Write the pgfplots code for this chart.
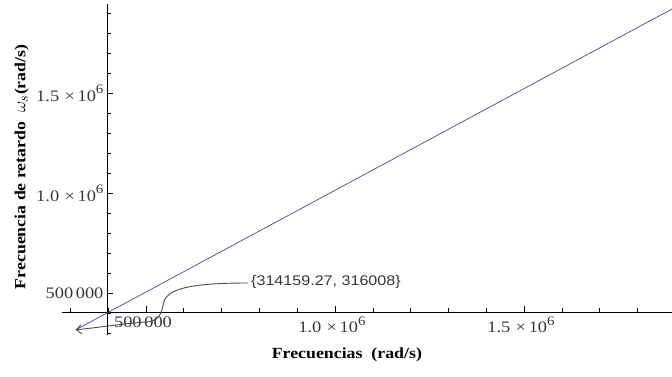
\documentclass[border=0pt]{standalone}
\usepackage{fontspec}
\setmainfont[FakeStretch=1.15]{Liberation Serif}
\newfontfamily\annfont[FakeStretch=1.15]{Liberation Sans}
\usepackage{pgfplots}
\pgfplotsset{compat=1.18}
\usetikzlibrary{arrows.meta}
\definecolor{mmaline}{RGB}{70,70,160}
\definecolor{ticklab}{RGB}{55,55,55}
\newcommand{\sci}[1]{#1\,\,×\,10\raisebox{0.48em}{\fontsize{13}{14}\selectfont 6}}
\begin{document}
\begin{tikzpicture}
\useasboundingbox (0,0) rectangle (672pt,377pt);
\begin{axis}[
  at={(62pt,42pt)}, anchor=south west,
  width=610pt, height=331pt, scale only axis,
  xmin=277800, xmax=1891500, ymin=290000, ymax=1945000,
  axis x line=bottom, axis y line=left,
  axis x line shift=-23pt, axis y line shift=-45pt,
  axis line style={-, black, line width=0.8pt},
  scaled ticks=false,
  xtick={500000,1000000,1500000},
  xticklabels={500\,000, \sci{1.0}, \sci{1.5}},
  ytick={500000,1000000,1500000},
  yticklabels={500\,000, \sci{1.0}, \sci{1.5}},
  minor xtick={300000,400000,600000,700000,800000,900000,1100000,1200000,1300000,1400000,1600000,1700000,1800000},
  minor ytick={300000,400000,600000,700000,800000,900000,1100000,1200000,1300000,1400000,1600000,1700000,1800000,1900000},
  tick align=inside,
  major tick length=6pt, minor tick length=3.5pt,
  tick style={black, line width=0.6pt},
  ticklabel style={font=\fontsize{16}{18}\selectfont, text=ticklab},
  xticklabel style={xshift=-3pt, yshift=-1pt},
  /pgf/number format/assume math mode=true,
  xlabel={\textbf{Frecuencias\ \ (rad/s)}},
  xlabel style={at={(axis description cs:0.467,-0.06)}, anchor=center, font=\fontsize{15.5}{18}\selectfont},
  ylabel={\textbf{Frecuencia de retardo}\ \ {\fontsize{19}{20}\selectfont$\omega_s$}\textbf{(rad/s)}},
  ylabel style={at={(axis description cs:-0.066,0.508)}, anchor=center, rotate=0, font=\fontsize{15.5}{18}\selectfont},
]
\addplot[mmaline, line width=0.7pt] coordinates {(314159.27,316008) (1100000,1115000) (1891500,1920000)};
\draw[line width=0.9pt, black!70, -{Straight Barb[length=5pt,width=9pt]}]
  (axis cs:769800,550000) .. controls (axis cs:603000,550000) and (axis cs:550300,515000) ..
  (axis cs:545000,440000) .. controls (axis cs:539700,375000) and (axis cs:523800,355000) ..
  (axis cs:497400,355000) .. controls (axis cs:431200,345000) and (axis cs:365000,325000) ..
  (axis cs:314159.27,316008);
\node[anchor=west, inner sep=0pt, font=\annfont\fontsize{14}{16}\selectfont, text=ticklab]
  at (axis cs:777800,555000) {\{314159.27, 316008\}};
\end{axis}
\end{tikzpicture}
\end{document}
